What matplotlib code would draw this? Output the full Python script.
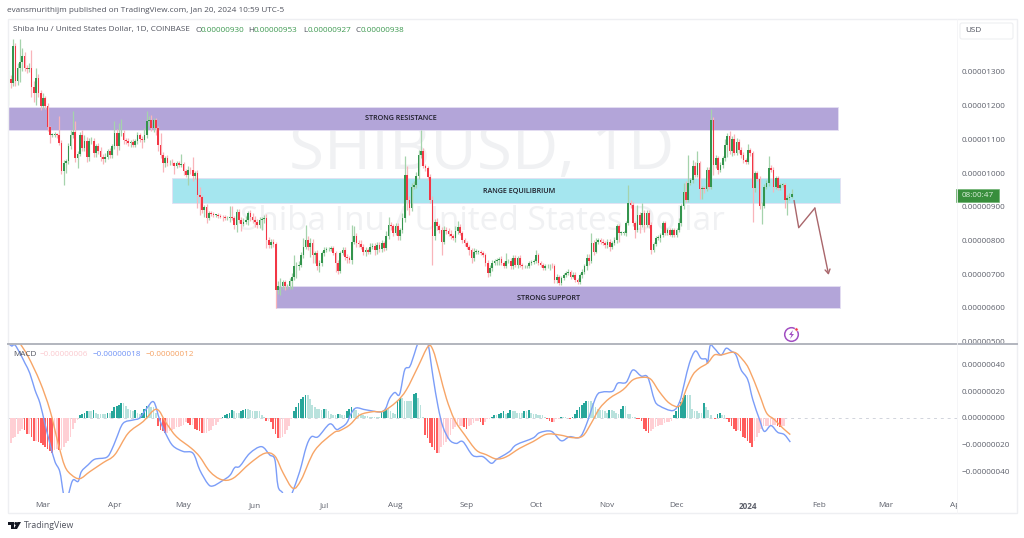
import matplotlib
matplotlib.use('Agg')
import matplotlib.pyplot as plt
import matplotlib.dates as mdates
import numpy as np
import pandas as pd
from matplotlib.patches import Rectangle, Circle, Polygon, FancyBboxPatch, PathPatch
from matplotlib.path import Path
from matplotlib.ticker import FuncFormatter
from matplotlib.transforms import Bbox, TransformedBbox

plt.rcParams['font.family'] = ['Open Sans', 'DejaVu Sans']

# prices in units of 1e-8 USD
closes = [
    1279, 1267, 1376, 1272, 1311, 1328, 1346, 1311, 1308, 1311, 1255, 1237, 1282, 1237, 1198, 1222, 1199, 1136, 1113, 1113,
    1115, 1113, 1089, 1005, 1031, 1036, 1079, 1113, 1123, 1044, 1057, 1113, 1074, 1094, 1049, 1094, 1094, 1059, 1079, 1064,
    1049, 1041, 1049, 1064, 1054, 1079, 1118, 1079, 1118, 1120, 1099, 1095, 1089, 1091, 1084, 1094, 1113, 1101, 1099, 1113,
    1153, 1158, 1133, 1156, 1133, 1084, 1054, 1029, 1044, 1029, 1031, 1029, 1021, 1029, 1024, 1027, 1005, 995, 1010, 1008,
    990, 1000, 935, 930, 891, 899, 866, 881, 879, 876, 876, 873, 871, 869, 866, 866, 871, 868, 846, 886,
    861, 849, 856, 861, 881, 871, 861, 856, 846, 861, 863, 866, 802, 787, 797, 790, 654, 664, 664, 678,
    664, 664, 681, 693, 723, 723, 728, 757, 782, 802, 782, 794, 757, 762, 723, 733, 762, 772, 774, 774,
    777, 762, 733, 711, 762, 772, 752, 748, 743, 797, 812, 792, 790, 782, 767, 772, 767, 782, 784, 772,
    787, 774, 792, 777, 812, 846, 842, 822, 843, 812, 832, 866, 995, 921, 896, 960, 965, 990, 1054, 1064,
    1021, 1015, 988, 921, 812, 856, 842, 832, 797, 832, 827, 820, 812, 807, 827, 840, 822, 802, 792, 782,
    772, 748, 767, 767, 767, 762, 757, 733, 703, 718, 733, 740, 743, 745, 733, 723, 738, 738, 723, 748,
    728, 748, 728, 723, 723, 723, 733, 735, 738, 757, 733, 728, 718, 723, 723, 725, 723, 683, 693, 675,
    688, 698, 705, 708, 693, 698, 683, 678, 698, 708, 723, 748, 738, 792, 767, 797, 802, 797, 792, 787,
    797, 782, 792, 802, 842, 822, 822, 822, 851, 911, 906, 851, 832, 876, 846, 881, 846, 881, 846, 772,
    790, 807, 807, 817, 851, 822, 832, 817, 832, 817, 832, 851, 901, 945, 921, 970, 980, 1020, 995, 1029,
    952, 955, 952, 1010, 960, 1158, 1024, 1044, 1010, 1024, 1044, 1084, 1109, 1064, 1101, 1059, 1091, 1069, 1054, 1039,
    1034, 1067, 1059, 955, 1000, 982, 901, 903, 960, 970, 1015, 1010, 960, 985, 955, 965, 965, 921, 926, 930,
    938,
]
first_open = 1247

# wick length above the body top
wick_up = [
    28, 12, 22, 10, 15, 70, 25, 12, 10, 15, 55, 18, 30, 12, 8, 15, 8, 8, 5, 6,
    6, 5, 55, 10, 8, 6, 10, 15, 60, 30, 8, 10, 15, 18, 12, 10, 12, 10, 8, 10,
    12, 8, 10, 8, 10, 6, 35, 12, 30, 40, 8, 6, 8, 6, 10, 6, 8, 6, 10, 20,
    30, 12, 15, 8, 6, 6, 35, 8, 6, 10, 8, 12, 5, 8, 8, 30, 6, 8, 10, 8,
    40, 6, 8, 25, 6, 6, 8, 6, 6, 5, 4, 5, 6, 6, 8, 6, 30, 30, 5, 6,
    6, 8, 10, 12, 6, 8, 10, 12, 8, 10, 8, 10, 12, 8, 6, 8, 6, 15, 25, 6,
    6, 6, 8, 10, 35, 12, 10, 10, 25, 45, 10, 12, 10, 8, 10, 8, 6, 10, 8, 6,
    6, 8, 8, 10, 8, 8, 10, 8, 6, 50, 30, 10, 8, 10, 8, 8, 6, 10, 8, 8,
    8, 10, 8, 6, 15, 25, 8, 8, 10, 8, 6, 15, 55, 25, 10, 10, 10, 12, 15, 65,
    10, 6, 6, 10, 10, 8, 12, 8, 8, 12, 8, 10, 10, 6, 15, 18, 10, 5, 6, 6,
    6, 5, 12, 8, 6, 6, 6, 6, 8, 8, 8, 6, 6, 6, 8, 6, 25, 8, 10, 8,
    10, 5, 8, 6, 5, 5, 6, 6, 6, 15, 6, 6, 6, 6, 6, 6, 8, 8, 8, 6,
    6, 6, 5, 8, 5, 8, 10, 6, 6, 8, 8, 12, 12, 30, 10, 10, 6, 6, 8, 6,
    8, 6, 6, 8, 8, 6, 6, 6, 8, 55, 8, 8, 8, 30, 8, 30, 8, 8, 8, 10,
    6, 6, 8, 6, 8, 6, 5, 6, 6, 6, 6, 15, 8, 25, 30, 85, 6, 20, 12, 35,
    8, 6, 6, 8, 8, 33, 8, 10, 8, 8, 8, 18, 10, 15, 8, 15, 12, 10, 8, 8,
    6, 20, 8, 6, 6, 5, 8, 10, 8, 8, 35, 8, 8, 6, 6, 6, 6, 6, 8, 10,
    15,
]
# wick length below the body bottom
wick_down = [
    45, 15, 10, 15, 12, 40, 25, 8, 10, 8, 30, 25, 35, 12, 10, 5, 8, 10, 25, 6,
    5, 8, 6, 8, 40, 30, 10, 8, 8, 12, 30, 6, 8, 10, 15, 12, 8, 10, 12, 8,
    12, 15, 8, 6, 10, 8, 8, 25, 12, 8, 12, 8, 8, 12, 8, 6, 8, 10, 25, 8,
    8, 12, 8, 10, 20, 20, 10, 25, 10, 8, 6, 6, 25, 6, 6, 6, 10, 8, 30, 12,
    15, 8, 40, 55, 10, 20, 15, 6, 6, 5, 5, 5, 5, 10, 5, 5, 12, 8, 12, 20,
    10, 20, 6, 8, 15, 12, 10, 15, 10, 8, 30, 12, 25, 10, 8, 8, 55, 12, 25, 8,
    10, 8, 8, 25, 10, 35, 10, 8, 10, 8, 10, 30, 25, 25, 10, 15, 10, 8, 6, 5,
    6, 6, 25, 10, 8, 5, 10, 15, 10, 12, 8, 12, 8, 8, 10, 12, 8, 6, 8, 15,
    12, 8, 8, 8, 6, 8, 10, 10, 6, 10, 10, 10, 10, 30, 20, 8, 8, 10, 8, 8,
    6, 8, 8, 10, 85, 10, 10, 10, 40, 8, 8, 8, 8, 6, 10, 8, 6, 8, 8, 8,
    15, 15, 8, 6, 6, 6, 6, 8, 12, 8, 8, 6, 12, 15, 6, 6, 6, 6, 8, 8,
    6, 10, 8, 8, 6, 6, 6, 6, 6, 6, 6, 6, 6, 6, 5, 10, 6, 10, 8, 8,
    8, 6, 6, 6, 6, 5, 6, 8, 6, 8, 8, 10, 10, 6, 10, 5, 6, 6, 5, 10,
    8, 12, 8, 6, 8, 25, 6, 6, 10, 6, 10, 8, 25, 6, 25, 6, 20, 6, 8, 12,
    6, 6, 6, 12, 6, 6, 6, 5, 8, 6, 6, 6, 8, 8, 8, 6, 6, 8, 6, 6,
    30, 30, 10, 6, 8, 8, 30, 10, 12, 8, 10, 8, 35, 8, 12, 6, 6, 8, 8, 8,
    8, 6, 8, 100, 10, 6, 8, 52, 8, 6, 8, 6, 15, 8, 6, 6, 6, 25, 45, 6,
    3,
]

macd_hist = [
    -19, -19, -15, -14, -12, -10, -8, -9, -12, -12, -14, -17, -17, -18, -19, -20, -22, -23, -25, -26,
    -24, -23, -24, -24, -22, -19, -17, -14, -8, -4, -1.5, 2, 3, 4, 5, 5, 5, 6, 4, 3,
    3, 3, 3, 4, 4, 5, 8, 9, 10, 11, 11, 9, 7, 6, 5, 6, 4, 3, 4, 7,
    9, 9, 8, 8, 4, -6, -9, -10, -11, -11, -10, -9, -8, -7, -7, -6, -5, -3, -4, -5,
    -5, -8, -9, -10, -11, -11, -11, -10, -9, -6, -5, -3, -1, 1, 2, 3, 4, 6, 5, 4,
    4, 5, 6, 7, 7, 6, 5, 5, 5, 5, 2, 0.5, -2, -2, -3, -8, -12, -15, -15, -14,
    -12, -9, -6, -1, 5, 8, 11, 14, 16, 17, 17, 14, 10, 8, 7, 7, 6, 7, 7, 5,
    3, 2, 2, 3, 3, 2, 2, 5, 7, 8, 7, 6, 4, 3, 2, 1.5, 1.5, 1, 1, 1,
    1, 1, 5, 6, 7, 7, 5, 4, 3, 13, 15, 15, 13, 13, 13, 13, 18, 19, 15, 10,
    1, -13, -15, -19, -22, -24, -26, -26, -22, -20, -18, -16, -13, -8, -7, -6, -6, -6, -7, -8,
    -6, -5, -4, -2, -2, -3, -5, -3, -1, -0.5, 1, 2, 2, 3, 4, 5, 3, 4, 6, 5,
    5, 4, 4, 4, 5, 5, 6, 4, 3, 3, 2, 2, 2, 1, -1, -2, -3, -3, -1, -0.5,
    1, 1, 0.5, 0.2, -0.5, 1, 3, 6, 8, 10, 11, 13, 13, 13, 11, 8, 7, 6, 6, 5,
    4, 6, 6, 5, 4, 3, 7, 9, 9, 3, 3, 1, 0.5, -0.5, -1, -2, -8, -10, -11, -10,
    -8, -7, -6, -5, -5, -4, -3, -3, -2, 2, 5, 8, 12, 15, 17, 17, 17, 7, 5, 5,
    4, 4, 11, 8, 6, 2, 0, -0.5, 3, 4, 2, 2, -0.5, -3, -6, -8, -10, -9, -10, -14,
    -15, -17, -19, -22, -17, -14, -11, -8, -6, -6, -6, -6, -5, -5, -6, -7, -6, -6,
]

macd_days = [0, 1.4, 2.8, 5, 7.2, 9.3, 11.5, 13.7, 15.8, 18, 20.2, 22.3, 23.8, 24.8, 26.3, 27.4, 28.4, 30.3, 31.7,
             34.6, 37.5, 42.6, 44.8, 46.9, 49.8, 54.2, 57, 60, 63.1, 65.7, 68.6, 71.5, 75.9, 80.2, 83.1, 86.7, 88.9,
             92.5, 96.1, 98.3, 100.5, 104.8, 109.9, 113.5, 115.7, 117.1, 119, 121.5, 123.3, 126.5, 129.4, 131.6,
             134.5, 139.5, 142.4, 143.9, 146.8, 148.9, 151.1, 155.5, 162.7, 165.6, 167.8, 169.9, 172.1, 174.3, 176.4,
             177.9, 180, 182.2, 184.4, 186.6, 188.7, 191.6, 194.5, 197.4, 201.7, 206.1, 209.7, 211.9, 214, 217.7,
             220.6, 227.8, 230.7, 235.8, 240.1, 243.7, 248.1, 251, 255.3, 258.2, 262.5, 264.7, 268.3, 271.2, 274.8,
             277.7, 280.6, 282.8, 288.6, 291.5, 293.6, 295.8, 298.4, 300.8, 303, 303.7, 304.8, 306.6, 309.5, 311.7,
             313.8, 316, 318.2, 321.1, 323.3, 326.2, 328.3, 331.2, 334.1, 337, 339.6]
macd_line = [55.7, 53.7, 54.5, 48.3, 40.8, 33.3, 21, 11, -4, -19, -32.6, -40, -55.7, -63.7, -55.7, -48.5, -46, -47.3, -40,
             -35, -30.8, -29.4, -23.9, -15.2, -4, -1.5, 0, 7, 12, -1.5, -12.7, -20.9, -25, -26.4, -38.8, -49.3, -50.7,
             -47.3, -43, -37, -36, -26.4, -21.4, -27.6, -31, -51, -55.7, -63.7, -55.7, -40, -21.4, -14,
             -14, -4.5, -8.5, -7.7, -4, 3.5, 7.5, 6, 5, 14.7, 19, 17.7, 35.8, 38.3, 48.3,
             56.2, 63, 55.7, 30.8, 8.5, -6.5, -16.4, -19, -17.7, -28, -28.9, -33.8, -31, -28.9, -25,
             -20, -15, -11, -10, -17, -14, -14.4, -5, 16, 19.4, 20, 26, 26.6, 35.8, 31.3,
             30.3, 13.4, 9, 5.5, 12, 26, 41, 50, 44.5, 44, 41, 54, 52, 47, 52,
             50, 47, 36, 28.6, 13.7, -1, -10, -5.7, -10.7, -12.4, -18]

signal_days = [0, 3, 5, 8.6, 13.7, 18, 21.6, 24.5, 27.4, 31, 35.4, 41.2, 46.2, 52, 58.5, 64.3, 68.6, 73, 79.5, 83.1,
               87.5, 92.5, 97.6, 104.8, 111.3, 115.7, 119.3, 123.6, 127.2, 133, 141, 143.9, 148.2, 152.6, 158.3, 162.7,
               168.5, 172.8, 177.9, 182.2, 184.4, 187.3, 190.2, 193.8, 198.2, 203.2, 207.5, 211.9, 216.2, 222, 227.8,
               233.6, 239.4, 245.1, 249.5, 253.1, 256.7, 261.1, 266.9, 271.2, 275.5, 279, 282.8, 287.1, 291.5, 294.3,
               297.2, 300, 303.7, 306.6, 309.5, 315.2, 318.9, 321.8, 326.2, 329.3, 332.7, 336.3, 339.6]
signal_line = [70, 61, 55.7, 45.7, 27, 6, -19, -36, -42.5, -45.3, -40, -33.3, -27.4, -11.4, -2.7, 6.5, -4, -14, -22.7, -29,
               -40, -46, -45, -34, -26.4, -28.4, -41, -52.5, -46, -24.4, -11.4, -9.5, -5.2, 2.2, 4.7, 5,
               12, 20.9, 38.3, 53.2, 50.7, 33.3, 14.7, -1.5, -12.7, -24, -27.4, -30.6, -29, -22.7, -17.7,
               -12.2, -12.7, -14.7, -13.4, -4, 7, 14.7, 21, 28.4, 30.3, 28.9, 19.4, 11, 9, 21,
               32, 37, 41, 47, 47, 49, 43.5, 36, 17.4, 3.7, -1.2, -7.5, -12.4]

# zones in 1e-8
zone_names = ['STRONG RESISTANCE', 'RANGE EQUILIBRIUM', 'STRONG SUPPORT']
zone_start = ['2023-02-10', '2023-04-26', '2023-06-10']
zone_end = ['2024-02-09', '2024-02-10', '2024-02-10']
zone_low = [1128, 911, 600]
zone_high = [1196, 985, 666]
zone_colors = ['#b3a5d9', '#a5e6ef', '#b3a5d9']

forecast_dates = ['2024-01-21', '2024-01-23', '2024-01-30', '2024-02-05']
forecast_prices = [918, 838, 896, 698]

price_ticks = [500, 600, 700, 800, 900, 1000, 1100, 1200, 1300]
macd_ticks = [-40, -20, 0, 20, 40]

W, H = 1024, 538
X0, X1 = 8, 957
days = pd.date_range('2023-02-14', periods=len(closes))
x = mdates.date2num(days)
px_per_day = 2.304
mar1 = mdates.date2num(pd.Timestamp('2023-03-01'))
xlim = (mar1 + (X0 - 43) / px_per_day, mar1 + (X1 - 43) / px_per_day)


def frac(left, top, right, bottom):
    return [left / W, 1 - bottom / H, (right - left) / W, (bottom - top) / H]


def smooth_path(xs, ys):
    # curve through the read points, so the line has no corners at them
    pts = np.column_stack([xs, ys])
    verts = [pts[0]]
    codes = [Path.MOVETO]
    for i in range(len(pts) - 1):
        p0 = pts[max(i - 1, 0)]
        p1 = pts[i]
        p2 = pts[i + 1]
        p3 = pts[min(i + 2, len(pts) - 1)]
        verts += [p1 + (p2 - p0) / 6, p2 - (p3 - p1) / 6, p2]
        codes += [Path.CURVE4] * 3
    return Path(verts, codes)


fig = plt.figure(figsize=(W / 100, H / 100), dpi=100, facecolor='white')

# watermark goes behind everything
wm = fig.add_axes(frac(X0, 19, X1, 344), zorder=-1)
wm.set_xlim(X0, X1)
wm.set_ylim(344, 19)
wm.axis('off')
wm.text(482, 152, 'SHIBUSD, 1D', fontsize=46, color='#f0f1f3', ha='center', va='center')
wm.text(482, 222, 'Shiba Inu / United States Dollar', fontsize=24, color='#f0f1f3', ha='center', va='center')

ax = fig.add_axes(frac(X0, 19, X1, 344))
ax2 = fig.add_axes(frac(X0, 344, X1, 493))
ax.patch.set_alpha(0)
ax2.patch.set_alpha(0)

closes_a = np.array(closes) * 1e-8
opens_a = np.array([first_open] + closes[:-1]) * 1e-8
body_top = np.maximum(opens_a, closes_a)
body_bot = np.minimum(opens_a, closes_a)
highs = body_top + np.array(wick_up) * 1e-8
lows = body_bot - np.array(wick_down) * 1e-8
up = closes_a >= opens_a

GREEN = '#33944d'
RED = '#f23645'
colors = [GREEN if u else RED for u in up]
wick_colors = ['#a5d3ac' if u else '#f9b4ba' for u in up]

# zones behind candles
for s, e, lo, hi, c in zip(zone_start, zone_end, zone_low, zone_high, zone_colors):
    s_n = mdates.date2num(pd.Timestamp(s))
    e_n = mdates.date2num(pd.Timestamp(e))
    ax.add_patch(Rectangle((s_n, lo * 1e-8), e_n - s_n, (hi - lo) * 1e-8, facecolor=c,
                           edgecolor='#e4dff3', linewidth=0.6, zorder=1))

ax.vlines(x, lows, highs, colors=wick_colors, linewidth=0.9, zorder=2)
ax.bar(x, np.maximum(body_top - body_bot, 2e-8), bottom=body_bot, width=0.72, color=colors, linewidth=0, zorder=3)

fc = mdates.date2num(pd.to_datetime(forecast_dates))
fp = np.array(forecast_prices) * 1e-8
ax.plot(fc[:-1], fp[:-1], color='#a9666b', linewidth=1.0, zorder=4)
ax.annotate('', xy=(fc[-1], fp[-1]), xytext=(fc[-2], fp[-2]), zorder=4,
            arrowprops=dict(arrowstyle='->,head_length=0.3,head_width=0.18', color='#a9666b', linewidth=1.0,
                            shrinkA=0, shrinkB=0))

ax.set_xlim(xlim)
ax.set_ylim(493e-8, 1457e-8)
ax.set_xticks([])
ax.yaxis.tick_right()
ax.set_yticks(np.array(price_ticks) * 1e-8)
ax.yaxis.set_major_formatter(FuncFormatter(lambda v, p: '%.8f' % v))
ax.tick_params(axis='y', length=0, pad=3.6, labelsize=5.9, labelcolor='#5d606b')
for s in ax.spines.values():
    s.set_visible(False)

# macd pane
hist = np.array(macd_hist)
hx = x[:len(hist)]
hist_colors = []
for i, v in enumerate(hist):
    prev = hist[i - 1] if i > 0 else v
    if v >= 0:
        hist_colors.append('#26a69a' if v > prev else '#b9e2dd')
    else:
        hist_colors.append('#ff5c5c' if v < prev else '#ffcfd4')
ax2.bar(hx, hist * 1e-8, width=0.75, color=hist_colors, linewidth=0, zorder=2)
ax2.axhline(0, color='#d1d4dc', linewidth=0.7, linestyle=(0, (3, 4)), zorder=1)
ax2.add_patch(PathPatch(smooth_path(x[0] + np.array(macd_days), np.array(macd_line) * 1e-8), fill=False,
                        edgecolor='#7b9df8', linewidth=1.0, zorder=3))
ax2.add_patch(PathPatch(smooth_path(x[0] + np.array(signal_days), np.array(signal_line) * 1e-8), fill=False,
                        edgecolor='#f7a567', linewidth=1.0, zorder=4))
ax2.set_xlim(xlim)
ax2.set_ylim(-56e-8, 55.2e-8)
ax2.yaxis.tick_right()
ax2.set_yticks(np.array(macd_ticks) * 1e-8)
ax2.yaxis.set_major_formatter(FuncFormatter(lambda v, p: ('%.8f' % v).replace('-', '\u2212')))
ax2.tick_params(axis='y', length=0, pad=3.6, labelsize=5.9, labelcolor='#5d606b')
tick_dates = pd.to_datetime(['2023-03-01', '2023-04-01', '2023-05-01', '2023-06-01', '2023-07-01', '2023-08-01',
                             '2023-09-01', '2023-10-01', '2023-11-01', '2023-12-01', '2024-01-01', '2024-02-01',
                             '2024-03-01', '2024-04-01'])
tick_names = ['Mar', 'Apr', 'May', 'Jun', 'Jul', 'Aug', 'Sep', 'Oct', 'Nov', 'Dec', '2024', 'Feb', 'Mar', 'Apr']
ax2.set_xticks(mdates.date2num(tick_dates))
ax2.set_xticklabels(tick_names)
ax2.tick_params(axis='x', length=0, pad=6.5, labelsize=5.9, labelcolor='#5d606b')
for s in ax2.spines.values():
    s.set_visible(False)
clip = TransformedBbox(Bbox([[0, 0], [X1 / W, 1]]), fig.transFigure)
for lbl, nm in zip(ax2.get_xticklabels(), tick_names):
    if nm == '2024':
        lbl.set_fontweight('bold')
lbl = ax2.get_xticklabels()[-1]
lbl.set_clip_on(True)
lbl.set_clip_box(clip)

# overlay in pixel coordinates for the page furniture
ov = fig.add_axes([0, 0, 1, 1], zorder=10)
ov.set_xlim(0, W)
ov.set_ylim(H, 0)
ov.axis('off')
ov.patch.set_alpha(0)

# frame; the white strip cuts the lowest price label at the pane line
ov.add_patch(Rectangle((958, 344), 58, 8, facecolor='white', edgecolor='none'))
ov.add_patch(Rectangle((8, 19), 1009, 494, fill=False, edgecolor='#eeeff2', linewidth=1))
ov.plot([8, 1017], [344, 344], color='#b2b5be', linewidth=1.4)
ov.plot([957, 957], [19, 513], color='#f4f4f6', linewidth=0.6)

txt = '#50535e'
ov.text(7, 11, 'evansmurithijm published on TradingView.com, Jan 20, 2024 10:59 UTC-5', fontsize=5.9, color=txt,
        va='center')
ov.text(13, 30, 'Shiba Inu / United States Dollar, 1D, COINBASE', fontsize=5.9, color=txt, va='center')
for lx, vx, k, v in zip([195, 248, 303, 356], [200.5, 253.5, 308, 361], 'OHLC',
                        ['0.00000930', '0.00000953', '0.00000927', '0.00000938']):
    ov.text(lx, 30, k, fontsize=5.9, color=txt, va='center')
    ov.text(vx, 30, v, fontsize=5.9, color='#3f9a52', va='center')

ov.text(401, 118, zone_names[0], fontsize=5.2, color='#1f1f2b', ha='center', va='center', fontweight='semibold')
ov.text(519, 191, zone_names[1], fontsize=5.2, color='#1f1f2b', ha='center', va='center', fontweight='semibold')
ov.text(549, 299, zone_names[2], fontsize=5.2, color='#1f1f2b', ha='center', va='center', fontweight='semibold')

# macd legend
ov.text(13, 355, 'MACD', fontsize=5.9, color=txt, va='center')
ov.text(40, 355, '\u22120.00000006', fontsize=5.9, color='#fbc9ce', va='center')
ov.text(93, 355, '\u22120.00000018', fontsize=5.9, color='#6f92f6', va='center')
ov.text(146, 355, '\u22120.00000012', fontsize=5.9, color='#f5a263', va='center')

# USD box and countdown
ov.add_patch(FancyBboxPatch((960, 23), 53, 16, boxstyle='round,pad=0,rounding_size=2', facecolor='white',
                            edgecolor='#eeeff2', linewidth=0.8))
ov.text(965, 31, 'USD', fontsize=5.9, color=txt, va='center')
ov.add_patch(Rectangle((956, 189), 43, 13, facecolor='#388e3c', edgecolor='#6fb373', linewidth=0.5))
ov.text(977.5, 195.5, '08:00:47', fontsize=5.9, color='#dcefdc', ha='center', va='center')

# lightning icon
ov.add_patch(Circle((791.5, 334.5), 6.8, fill=False, edgecolor='#a24fc2', linewidth=1.1))
ov.add_patch(Polygon([(793, 330), (789, 335), (791.5, 335), (790, 339), (794, 334), (791.7, 334)],
                     facecolor='#a24fc2', edgecolor='none'))
ov.add_patch(Circle((796.5, 329.5), 1.6, facecolor='#f23645', edgecolor='white', linewidth=0.4))

# logo
ov.add_patch(Polygon([(7.5, 522), (14, 522), (14, 529), (10.5, 529), (10.5, 525), (7.5, 525)], facecolor='#131722',
                     edgecolor='none'))
ov.add_patch(Circle((15.8, 523.5), 1.5, facecolor='#131722', edgecolor='none'))
ov.add_patch(Polygon([(17.5, 522), (21, 522), (17, 529), (13.5, 529)], facecolor='#131722', edgecolor='none'))
ov.text(24, 525.5, 'TradingView', fontsize=6.3, color='#50535e', va='center')

fig.savefig('out.png', dpi=100, facecolor='white')
